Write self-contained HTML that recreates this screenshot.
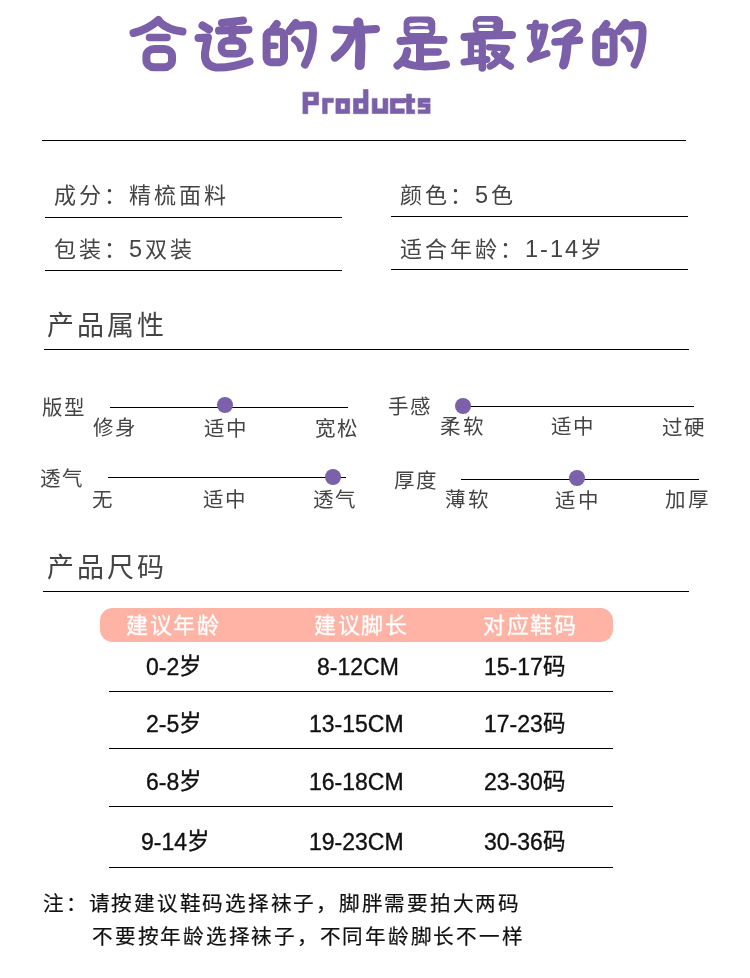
<!DOCTYPE html>
<html lang="zh-CN">
<head>
<meta charset="utf-8">
<style>
html,body{margin:0;padding:0;background:#fff;}
body{width:750px;height:978px;position:relative;overflow:hidden;font-family:"Liberation Sans",sans-serif;}
.wrap{position:absolute;left:0;top:0;width:750px;height:978px;}
.a{position:absolute;white-space:nowrap;line-height:1;}
.hr{position:absolute;height:1px;background:#000;}
.attr{font-size:22px;color:#444;letter-spacing:3px;}
.d{font-size:23.5px;line-height:0;}
.head{font-size:27px;color:#444;letter-spacing:3px;}
.sl{font-size:20.5px;color:#444;letter-spacing:2.2px;}
.line{position:absolute;height:1px;background:#000;}
.dot{position:absolute;width:16px;height:16px;border-radius:50%;background:#7b60aa;}
.pink{position:absolute;left:100px;top:608px;width:512.5px;height:33.6px;border-radius:12.5px;background:#feb3a5;}
.th{font-size:22px;color:#fff;letter-spacing:1.6px;-webkit-text-stroke:0.3px #fff;}
.td{font-size:22.5px;color:#111;font-weight:500;-webkit-text-stroke:0.35px #111;}
.n{font-size:23px;letter-spacing:0px;position:relative;top:1px;}
.note{font-size:20.6px;color:#111;letter-spacing:1.75px;-webkit-text-stroke:0.2px #111;}
</style>
</head>
<body><div class="wrap" style="will-change:transform;">
<svg class="a" style="left:0;top:0;" width="750" height="130" viewBox="0 0 750 130">
<g fill="none" stroke="#7b60a9" stroke-width="8" stroke-linecap="round" stroke-linejoin="round">
<!-- 合 -->
<path d="M158.5,20 Q148,29.5 133.5,33"/>
<path d="M159.5,22 Q168,30 182.5,31.5"/>
<path d="M149.5,37.6 L167,37.6" stroke-width="7.5"/>
<rect x="146.4" y="49" width="25.6" height="18.2" rx="8" ry="7"/>
<!-- 适 -->
<path d="M202.5,25.5 L209,29.5"/>
<path d="M198.5,38 L208,37.5 Q206,46 205,53 Q204,66 216,67.5 Q232,68 249.5,61.5"/>
<path d="M222,23 Q233,21.5 243,20.5"/>
<path d="M219,30.6 L248.5,29.7"/>
<path d="M232.4,23 L232.4,38"/>
<rect x="221.45" y="40.85" width="21.1" height="13" rx="6" ry="5.5" stroke-width="7.5"/>
<!-- 的 -->
<g><path d="M276.7,24 L273.5,28.4"/>
<rect x="266.6" y="31.8" width="17.4" height="30.4" rx="4" ry="5"/>
<path d="M269.5,45.8 L275.3,45.8" stroke-width="6.5"/>
<path d="M295.7,23 L289.5,31"/>
<path d="M293.5,26 L309,25 Q313,25.5 313,31 Q313,50 305,64.5"/>
<path d="M294.5,39.5 Q299.5,43 300.5,48.5" stroke-width="7"/></g>
<!-- 才 -->
<path d="M336.5,29.5 Q355,31 376,29"/>
<path d="M358.3,22.5 Q360.5,33 360.5,45 L359.7,65" stroke-width="10"/>
<path d="M352,35.6 Q347,49 335,57.5" stroke-width="8.5"/>
<!-- 是 -->
<rect x="403.6" y="16.5" width="31.7" height="21" rx="7" ry="7" fill="#7b60a9" stroke="none"/>
<path d="M411,24.7 Q420,23.5 426.5,24.7" stroke="#fff" stroke-width="3.4"/>
<path d="M411.5,31.2 L427.5,31.2" stroke="#fff" stroke-width="3.8"/>
<path d="M400.5,41 Q420,39.5 443.5,40" stroke-width="8"/>
<path d="M420,44 L420,62"/>
<path d="M420,51.9 L438,51.9" stroke-width="7.5"/>
<path d="M407.2,51 Q406,60 397.5,65.5"/>
<path d="M405.5,63 Q418,69 446,64.5"/>
<!-- 最 -->
<rect x="472.8" y="16.1" width="30.3" height="18" rx="7" ry="7" fill="#7b60a9" stroke="none"/>
<path d="M479,23.3 L492,23.3" stroke="#fff" stroke-width="3"/>
<path d="M480,29.5 L492,29.5" stroke="#fff" stroke-width="3.2"/>
<path d="M464.5,37 Q488,35 512,35"/>
<rect x="467.8" y="39" width="18.1" height="21" rx="2" fill="#7b60a9" stroke="none"/>
<path d="M474.1,47.4 L478.7,47.4" stroke="#fff" stroke-width="4.3" stroke-linecap="butt"/>
<path d="M474.1,54.6 L478.7,54.6" stroke="#fff" stroke-width="4.3" stroke-linecap="butt"/>
<path d="M464,62 L487,59.5" stroke-width="7"/>
<path d="M482.3,58 L482.3,68" stroke-width="7.5"/>
<path d="M489,47.2 L506.5,48.3" stroke-width="6.5"/><path d="M506.5,48.8 Q502,58 494,64 L490,66.2" stroke-width="7"/>
<path d="M494.5,53.5 Q501,61 510.5,66.3" stroke-width="7"/>
<!-- 好 -->
<path d="M529.5,27 L545.5,26.5" stroke-width="6"/>
<path d="M535.6,23 Q531.5,38 537.5,49.5" stroke-width="6.5"/>
<path d="M544.5,28.5 Q542,47 530.5,59" stroke-width="7"/>
<path d="M530.5,59 L547,53.5" stroke-width="7"/>
<path d="M555.5,28 Q564,22 574,22.5 Q578.5,24 577,29 Q574,33 569,36.5" stroke-width="7.5"/>
<path d="M555,42 L579.5,40.3" stroke-width="7.5"/>
<path d="M567.5,39 L566.5,50 Q565.8,59 563.5,65" stroke-width="9"/>
<!-- 的 2 -->
<g transform="translate(329.6,0)"><path d="M276.7,24 L273.5,28.4"/>
<rect x="266.6" y="31.8" width="17.4" height="30.4" rx="4" ry="5"/>
<path d="M269.5,45.8 L275.3,45.8" stroke-width="6.5"/>
<path d="M295.7,23 L289.5,31"/>
<path d="M293.5,26 L309,25 Q313,25.5 313,31 Q313,50 305,64.5"/>
<path d="M294.5,39.5 Q299.5,43 300.5,48.5" stroke-width="7"/></g>
</g>
</svg>
<svg class="a" style="left:0;top:80px;" width="750" height="40" viewBox="0 80 750 40">
<g fill="#7b60a9" fill-rule="evenodd" stroke="#7b60a9" stroke-width="0.6" stroke-linejoin="round">
<path d="M302.9,92.2 H318.5 V105 H307.8 V113.7 H302.9 Z M307.8,96.4 V101.1 H313.8 V96.4 Z"/>
<path d="M322.6,98.2 H333.4 V102.6 H327.2 V113.7 H322.6 Z"/>
<path d="M335.9,98.6 H349.7 V113.5 H335.9 Z M340.6,103.2 V109.3 H345.1 V103.2 Z"/>
<path d="M353.5,98.4 H363.4 V89.5 H368.1 V113.7 H353.5 Z M358.4,103.1 V108.9 H363.4 V103.1 Z"/>
<path d="M372.2,98.4 H377.1 V108.8 H383 V98.4 H387.9 V113.5 H372.2 Z"/>
<path d="M390.3,98.4 H404.3 V103 H395.1 V108.8 H404.3 V113.5 H390.3 Z"/>
<path d="M406.6,94 H411.5 V98.6 H414.9 V102.4 H411.5 V109.8 H414.7 V113.7 H406.6 V102.4 H403.7 V98.6 H406.6 Z"/>
<path d="M418.1,98.3 H430.1 V102.4 H422.6 V103.8 H430.1 V113.6 H418.1 V109.8 H425.7 V107.3 H418.1 Z"/>
</g>
</svg>
<div class="hr" style="left:42px;top:140px;width:644px;"></div>

<div class="a attr" style="left:54px;top:185px;">成分：精梳面料</div>
<div class="hr" style="left:45px;top:217px;width:297px;"></div>
<div class="a attr" style="left:400px;top:185px;">颜色：<span class="d">5</span>色</div>
<div class="hr" style="left:391px;top:216px;width:297px;"></div>

<div class="a attr" style="left:54px;top:239px;">包装：<span class="d">5</span>双装</div>
<div class="hr" style="left:45px;top:270px;width:297px;"></div>
<div class="a attr" style="left:400px;top:239px;">适合年龄：<span class="d" style="letter-spacing:2px">1-14</span>岁</div>
<div class="hr" style="left:391px;top:269px;width:297px;"></div>

<div class="a head" style="left:47px;top:313px;">产品属性</div>
<div class="hr" style="left:44px;top:349px;width:645px;"></div>

<!-- sliders -->
<div class="a sl" style="left:41.6px;top:398.4px;">版型</div>
<div class="line" style="left:110px;top:407px;width:238px;"></div>
<div class="dot" style="left:217px;top:397px;"></div>
<div class="a sl" style="left:92.8px;top:418.4px;">修身</div>
<div class="a sl" style="left:204.3px;top:418.6px;">适中</div>
<div class="a sl" style="left:314.6px;top:418.5px;">宽松</div>

<div class="a sl" style="left:388.1px;top:397.2px;">手感</div>
<div class="line" style="left:462px;top:406px;width:232px;"></div>
<div class="dot" style="left:455px;top:398px;"></div>
<div class="a sl" style="left:440.4px;top:417.0px;">柔软</div>
<div class="a sl" style="left:550.9px;top:417.3px;">适中</div>
<div class="a sl" style="left:661.8px;top:417.5px;">过硬</div>

<div class="a sl" style="left:40.2px;top:469.4px;">透气</div>
<div class="line" style="left:108px;top:477px;width:238px;"></div>
<div class="dot" style="left:325px;top:469px;"></div>
<div class="a sl" style="left:91.7px;top:489.5px;">无</div>
<div class="a sl" style="left:202.6px;top:490.0px;">适中</div>
<div class="a sl" style="left:313.3px;top:490.0px;">透气</div>

<div class="a sl" style="left:393.5px;top:471.1px;">厚度</div>
<div class="line" style="left:461px;top:479px;width:238px;"></div>
<div class="dot" style="left:569px;top:470px;"></div>
<div class="a sl" style="left:445.4px;top:490.0px;">薄软</div>
<div class="a sl" style="left:555.4px;top:491.2px;">适中</div>
<div class="a sl" style="left:665.4px;top:489.5px;">加厚</div>

<div class="a head" style="left:47px;top:555px;">产品尺码</div>
<div class="hr" style="left:43px;top:591px;width:646px;"></div>

<div class="pink"></div>
<div class="a th" style="left:126px;top:614.5px;">建议年龄</div>
<div class="a th" style="left:314px;top:614.5px;">建议脚长</div>
<div class="a th" style="left:483px;top:615px;">对应鞋码</div>

<div class="a td" style="left:146px;top:654.5px;"><span class="n">0-2</span>岁</div>
<div class="a td" style="left:317px;top:654.5px;"><span class="n">8-12CM</span></div>
<div class="a td" style="left:484px;top:654.5px;"><span class="n">15-17</span>码</div>
<div class="hr" style="left:109px;top:691px;width:504px;"></div>

<div class="a td" style="left:146px;top:711.5px;"><span class="n">2-5</span>岁</div>
<div class="a td" style="left:309px;top:711.5px;"><span class="n">13-15CM</span></div>
<div class="a td" style="left:484px;top:711.5px;"><span class="n">17-23</span>码</div>
<div class="hr" style="left:109px;top:748px;width:504px;"></div>

<div class="a td" style="left:146px;top:769.5px;"><span class="n">6-8</span>岁</div>
<div class="a td" style="left:309px;top:769.5px;"><span class="n">16-18CM</span></div>
<div class="a td" style="left:484px;top:769.5px;"><span class="n">23-30</span>码</div>
<div class="hr" style="left:109px;top:806px;width:504px;"></div>

<div class="a td" style="left:141px;top:829.5px;"><span class="n">9-14</span>岁</div>
<div class="a td" style="left:309px;top:829.5px;"><span class="n">19-23CM</span></div>
<div class="a td" style="left:484px;top:829.5px;"><span class="n">30-36</span>码</div>
<div class="hr" style="left:109px;top:867px;width:504px;"></div>

<div class="a note" style="left:43px;top:894px;">注：请按建议鞋码选择袜子，脚胖需要拍大两码</div>
<div class="a note" style="left:92px;top:927px;">不要按年龄选择袜子，不同年龄脚长不一样</div>
</div></body>
</html>
